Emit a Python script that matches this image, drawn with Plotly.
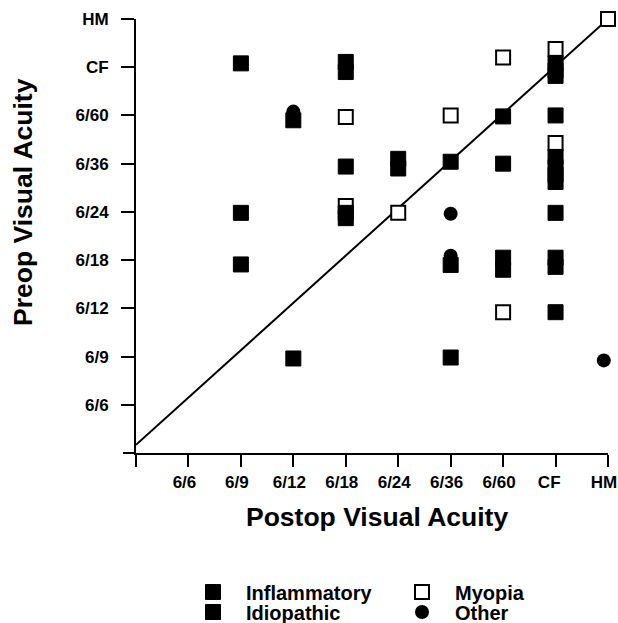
import plotly.graph_objects as go

# Category labels (index 1..9 on both axes)
tick_labels = ["6/6", "6/9", "6/12", "6/18", "6/24", "6/36", "6/60", "CF", "HM"]
x_tick_labels = ["6/6", "6/9", "6/12", "6/18", "6/24", "6/36", "6/60", "CF\u00a0", "HM"]

# Series values (x = postop index, y = preop index; small offsets = stacked marks)
inflam_x = [2, 2, 3, 4, 4, 5, 6, 7, 7, 8, 8, 8, 8, 8, 8, 8]
inflam_y = [8.08, 3.91, 6.90, 8.11, 5.94, 6.10, 6.04, 6.98, 4.05, 8.09, 7.82, 7.00, 6.14, 5.77, 4.98, 2.92]

idio_x = [2, 3, 4, 4, 4, 5, 6, 6, 7, 7, 8, 8, 8, 8, 8]
idio_y = [4.98, 1.96, 7.90, 4.98, 4.87, 5.90, 3.90, 1.98, 6.00, 3.80, 7.93, 5.93, 5.62, 4.05, 3.86]

myopia_x = [4, 4, 5, 6, 7, 7, 8, 8, 9]
myopia_y = [6.97, 5.12, 4.98, 7.00, 8.20, 2.92, 8.38, 6.43, 9.00]

other_x = [3, 6, 6, 8.92]
other_y = [7.08, 4.96, 4.09, 1.92]

diag_x = [0, 9]
diag_y = [0.17, 9]

FONT = "Liberation Sans, Arial, sans-serif"

W, H = 618, 623
L, T, R, B = 136, 19, 10, 170
PW = W - L - R
PH = H - T - B

fig = go.Figure()

fig.add_trace(go.Scatter(x=diag_x, y=diag_y, mode="lines",
                         line=dict(color="black", width=2),
                         showlegend=False, hoverinfo="skip"))

fig.add_trace(go.Scatter(x=myopia_x, y=myopia_y, mode="markers", name="Myopia",
                         marker=dict(symbol="square", size=14, color="white",
                                     line=dict(color="black", width=2)),
                         legend="legend", legendrank=2, cliponaxis=False))

fig.add_trace(go.Scatter(x=other_x, y=other_y, mode="markers", name="Other",
                         marker=dict(symbol="circle", size=14, color="black",
                                     line=dict(color="black", width=0)),
                         legend="legend2", legendrank=2, cliponaxis=False))

fig.add_trace(go.Scatter(x=inflam_x, y=inflam_y, mode="markers", name="Inflammatory",
                         marker=dict(symbol="square", size=15, color="black",
                                     line=dict(color="black", width=1)),
                         legend="legend", legendrank=1, cliponaxis=False))

fig.add_trace(go.Scatter(x=idio_x, y=idio_y, mode="markers", name="Idiopathic",
                         marker=dict(symbol="square", size=15, color="black",
                                     line=dict(color="black", width=1)),
                         legend="legend2", legendrank=1, cliponaxis=False))

legend_common = dict(orientation="h", xref="container", yref="container",
                     x=180 / W, xanchor="left", yanchor="middle",
                     itemwidth=56,
                     entrywidth=138, entrywidthmode="pixels", traceorder="normal",
                     bgcolor="rgba(0,0,0,0)", borderwidth=0,
                     font=dict(size=20, family=FONT, weight="bold"))

fig.update_layout(
    width=W, height=H,
    margin=dict(l=L, r=R, t=T, b=B),
    paper_bgcolor="white", plot_bgcolor="white",
    font=dict(family=FONT, color="black", size=17, weight="bold"),
    xaxis=dict(range=[0, 9], tickvals=list(range(0, 10)), ticktext=[""] + x_tick_labels,
               showgrid=False, zeroline=False, showline=True, linecolor="black", linewidth=2,
               ticks="outside", ticklen=12, tickwidth=1.5, tickcolor="black",
               tickfont=dict(size=17, family=FONT, weight="bold"), ticklabelstandoff=1,
               ticklabelshift=-4, ticklabeloverflow="allow", automargin=False),
    yaxis=dict(range=[0, 9], tickvals=list(range(1, 10)), ticktext=tick_labels,
               showgrid=False, zeroline=False, showline=True, linecolor="black", linewidth=2,
               ticks="outside", ticklen=13, tickwidth=1.5, tickcolor="black",
               tickfont=dict(size=17, family=FONT, weight="bold"), ticklabelstandoff=9,
               automargin=False),
    legend=dict(legend_common, y=1 - 592 / H),
    legend2=dict(legend_common, y=1 - 612 / H),
    annotations=[
        dict(text="Preop Visual Acuity", xref="paper", yref="paper", x=(23 - L) / PW,
             y=(H - B - 202) / PH, xanchor="center", yanchor="middle", textangle=-90,
             showarrow=False, font=dict(size=26.5, family=FONT, weight="bold")),
        dict(text="Postop Visual Acuity", xref="paper", yref="paper", x=(377 - L) / PW,
             y=(H - B - 517) / PH, xanchor="center", yanchor="middle", showarrow=False,
             font=dict(size=26.5, family=FONT, weight="bold")),
    ],
    shapes=[dict(type="line", xref="paper", yref="paper", x0=-13 / PW, x1=0, y0=0, y1=0,
                 line=dict(color="black", width=2))],
)

fig.write_html("out.html", config={"displayModeBar": False},
               post_script="document.body.style.margin='0';document.body.style.overflow='hidden';")
